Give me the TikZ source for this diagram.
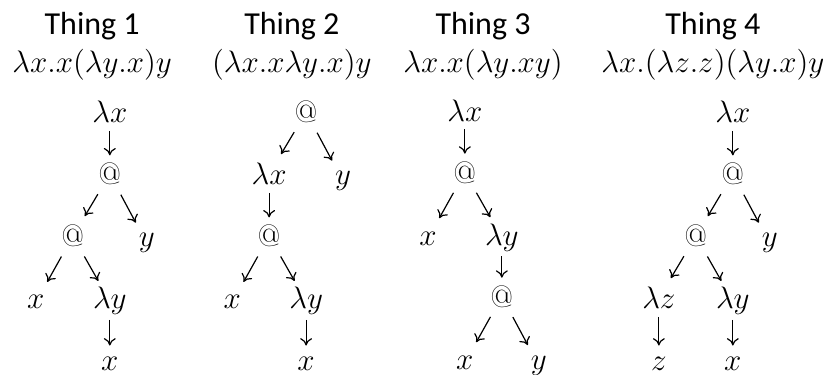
\documentclass[tikz,border=0pt]{standalone}
\usepackage{fix-cm}
\usepackage{fontspec}
\newfontfamily\headfont{Carlito}
\usetikzlibrary{arrows.meta,positioning}

\begin{document}
\begin{tikzpicture}[
    tm/.style={anchor=base, inner sep=1mm, font=\fontsize{15.5}{18}\selectfont},
    hd/.style={anchor=base, inner sep=0pt, font=\headfont\fontsize{16}{19}\selectfont},
    ex/.style={anchor=base, inner sep=0pt, font=\fontsize{15.5}{18}\selectfont},
    br/.style={draw, -{To[length=1.3mm,width=2.1mm]}, line width=0.6pt,
               shorten <=3.3mm, shorten >=3.3mm},
    dg/.style={br, shorten <=4.1mm, shorten >=4.1mm}]

  \useasboundingbox (0mm,0mm) rectangle (145.7mm,-65.9mm);

  % headings and terms
  \node[hd] (h1) at (16.2mm,-6.15mm) {Thing 1};
  \node[hd] (h2) at (51.3mm,-6.15mm) {Thing 2};
  \node[hd] (h3) at (84.9mm,-6.15mm) {Thing 3};
  \node[hd] (h4) at (125.3mm,-6.15mm) {Thing 4};
  \node[ex] (e1) at (16.2mm,-12.8mm) {$\lambda x.x(\lambda y.x)y$};
  \node[ex] (e2) at (51.3mm,-12.8mm) {$(\lambda x.x\lambda y.x)y$};
  \node[ex] (e3) at (84.9mm,-12.8mm) {$\lambda x.x(\lambda y.xy)$};
  \node[ex] (e4) at (125.3mm,-12.8mm) {$\lambda x.(\lambda z.z)(\lambda y.x)y$};

  % tree 1
  \node[tm] (t1a) at (19.3mm,-21.6mm) {$\lambda x$};
  \node[tm] (t1b) at (19.3mm,-32.5mm) {$@$};
  \node[tm] (t1c) at (12.8mm,-43.4mm) {$@$};
  \node[tm] (t1d) at (25.8mm,-43.4mm) {$y$};
  \node[tm] (t1e) at (6.3mm,-54.3mm) {$x$};
  \node[tm] (t1f) at (19.3mm,-54.3mm) {$\lambda y$};
  \node[tm] (t1g) at (19.3mm,-65.2mm) {$x$};
  \draw[br] (t1a.center) -- (t1b.center);
  \draw[dg] (t1b.center) -- (t1c.center);
  \draw[dg] (t1b.center) -- (t1d.center);
  \draw[dg] (t1c.center) -- (t1e.center);
  \draw[dg] (t1c.center) -- (t1f.center);
  \draw[br] (t1f.center) -- (t1g.center);

  % tree 2
  \node[tm] (t2a) at (53.8mm,-21.6mm) {$@$};
  \node[tm] (t2b) at (47.3mm,-32.5mm) {$\lambda x$};
  \node[tm] (t2c) at (60.3mm,-32.5mm) {$y$};
  \node[tm] (t2d) at (47.3mm,-43.4mm) {$@$};
  \node[tm] (t2e) at (40.8mm,-54.3mm) {$x$};
  \node[tm] (t2f) at (53.8mm,-54.3mm) {$\lambda y$};
  \node[tm] (t2g) at (53.8mm,-65.2mm) {$x$};
  \draw[dg] (t2a.center) -- (t2b.center);
  \draw[dg] (t2a.center) -- (t2c.center);
  \draw[br] (t2b.center) -- (t2d.center);
  \draw[dg] (t2d.center) -- (t2e.center);
  \draw[dg] (t2d.center) -- (t2f.center);
  \draw[br] (t2f.center) -- (t2g.center);

  % tree 3
  \node[tm] (t3a) at (81.7mm,-21.3mm) {$\lambda x$};
  \node[tm] (t3b) at (81.7mm,-32.2mm) {$@$};
  \node[tm] (t3c) at (75.2mm,-43.1mm) {$x$};
  \node[tm] (t3d) at (88.2mm,-43.1mm) {$\lambda y$};
  \node[tm] (t3e) at (88.2mm,-54.0mm) {$@$};
  \node[tm] (t3f) at (81.7mm,-64.9mm) {$x$};
  \node[tm] (t3g) at (94.7mm,-64.9mm) {$y$};
  \draw[br] (t3a.center) -- (t3b.center);
  \draw[dg] (t3b.center) -- (t3c.center);
  \draw[dg] (t3b.center) -- (t3d.center);
  \draw[br] (t3d.center) -- (t3e.center);
  \draw[dg] (t3e.center) -- (t3f.center);
  \draw[dg] (t3e.center) -- (t3g.center);

  % tree 4
  \node[tm] (t4a) at (128.8mm,-21.6mm) {$\lambda x$};
  \node[tm] (t4b) at (128.8mm,-32.5mm) {$@$};
  \node[tm] (t4c) at (122.3mm,-43.4mm) {$@$};
  \node[tm] (t4d) at (135.3mm,-43.4mm) {$y$};
  \node[tm] (t4e) at (115.8mm,-54.3mm) {$\lambda z$};
  \node[tm] (t4f) at (128.8mm,-54.3mm) {$\lambda y$};
  \node[tm] (t4g) at (115.8mm,-65.2mm) {$z$};
  \node[tm] (t4h) at (128.8mm,-65.2mm) {$x$};
  \draw[br] (t4a.center) -- (t4b.center);
  \draw[dg] (t4b.center) -- (t4c.center);
  \draw[dg] (t4b.center) -- (t4d.center);
  \draw[dg] (t4c.center) -- (t4e.center);
  \draw[dg] (t4c.center) -- (t4f.center);
  \draw[br] (t4e.center) -- (t4g.center);
  \draw[br] (t4f.center) -- (t4h.center);
\end{tikzpicture}
\end{document}
